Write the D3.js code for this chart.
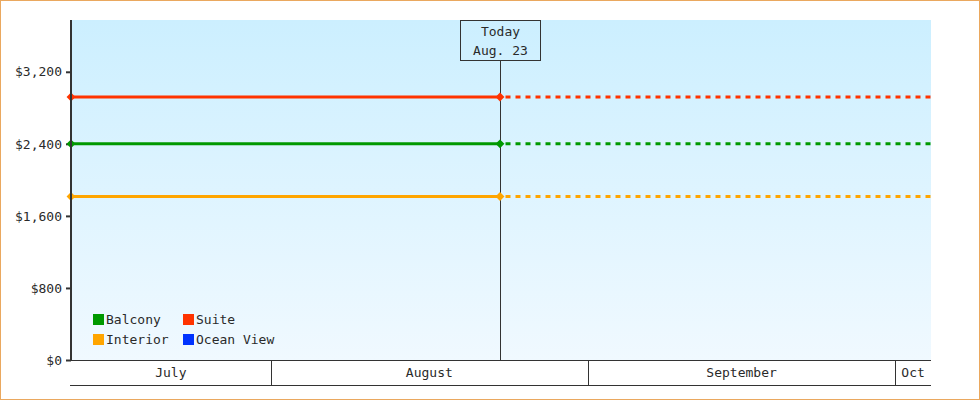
<!DOCTYPE html>
<html>
<head>
<meta charset="utf-8">
<script src="https://cdn.jsdelivr.net/npm/d3@7"></script>
<style>
  html, body { margin: 0; padding: 0; background: #fff; }
  svg text { font-family: "DejaVu Sans Mono", "Liberation Mono", monospace; font-size: 13px; fill: #2a2a2a; }
</style>
</head>
<body>
<div id="container"></div>
<script>
const seriesNames = ["Balcony", "Suite", "Interior", "Ocean View"];
const seriesColors = ["#009900", "#ff3300", "#ffa500", "#0033ff"];
// price per series (flat), null = no data
const seriesPrices = [2400, 2920, 1815, null];
const yTicks = [0, 800, 1600, 2400, 3200];
const monthLabels = ["July", "August", "September", "Oct"];
const monthStarts = ["2023-07-12T12:00", "2023-08-01T00:00", "2023-09-01T00:00", "2023-10-01T00:00"];
const domainEnd = "2023-10-04T12:00";
const today = "2023-08-23T10:00";
const todayLabel = ["Today", "Aug. 23"];

const w = 980, h = 400;
const pLeft = 71, pRight = 931, pTop = 20, pBottom = 360;

const svg = d3.select("#container").append("svg")
  .attr("width", w).attr("height", h);

svg.append("rect")
  .attr("x", 0.5).attr("y", 0.5)
  .attr("width", w - 1).attr("height", h - 1)
  .attr("fill", "#fff").attr("stroke", "#eaa85f");

const defs = svg.append("defs");
const grad = defs.append("linearGradient")
  .attr("id", "bg").attr("x1", 0).attr("y1", 0).attr("x2", 0).attr("y2", 1);
grad.append("stop").attr("offset", "0%").attr("stop-color", "#ccefff");
grad.append("stop").attr("offset", "100%").attr("stop-color", "#f0f9ff");

const parse = (s) => new Date(s);
const xScale = d3.scaleTime()
  .domain([parse(monthStarts[0]), parse(domainEnd)])
  .range([pLeft, pRight]);
const yScale = d3.scaleLinear()
  .domain([0, 3775])
  .range([pBottom, pTop]);

svg.append("rect")
  .attr("x", pLeft).attr("y", pTop)
  .attr("width", pRight - pLeft).attr("height", pBottom - pTop)
  .attr("fill", "url(#bg)");

// y axis
const yAxis = d3.axisLeft(yScale)
  .tickValues(yTicks)
  .tickSize(5)
  .tickPadding(4)
  .tickFormat((d) => "$" + d3.format(",")(d));
const yg = svg.append("g")
  .attr("transform", "translate(" + pLeft + ",0)")
  .call(yAxis);
yg.select(".domain").remove();
yg.selectAll(".tick line").attr("stroke", "#333").attr("stroke-width", 2);
yg.selectAll(".tick text").style("font-family", "DejaVu Sans Mono").style("font-size", "13px").attr("fill", "#2a2a2a");

// x axis band
const edges = monthStarts.map(parse).concat([parse(domainEnd)]);
svg.append("line")
  .attr("x1", pLeft - 1).attr("x2", pRight).attr("y1", pBottom + 0.5).attr("y2", pBottom + 0.5)
  .attr("stroke", "#333");
svg.append("line")
  .attr("x1", pLeft - 1).attr("x2", pRight).attr("y1", pBottom + 25.5).attr("y2", pBottom + 25.5)
  .attr("stroke", "#333");
svg.selectAll(".mdiv")
  .data(edges.slice(1, -1))
  .enter().append("line")
  .attr("class", "mdiv")
  .attr("x1", (d) => Math.round(xScale(d)) + 0.5)
  .attr("x2", (d) => Math.round(xScale(d)) + 0.5)
  .attr("y1", pBottom).attr("y2", pBottom + 25)
  .attr("stroke", "#333");
svg.selectAll(".mlbl")
  .data(monthLabels)
  .enter().append("text")
  .attr("class", "mlbl")
  .attr("x", (d, i) => (xScale(edges[i]) + xScale(edges[i + 1])) / 2)
  .attr("y", pBottom + 17)
  .attr("text-anchor", "middle")
  .text((d) => d);

// today marker
const tx = Math.round(xScale(parse(today))) + 0.5;
svg.append("line")
  .attr("x1", tx).attr("x2", tx)
  .attr("y1", pTop + 40).attr("y2", pBottom)
  .attr("stroke", "#333");
svg.append("rect")
  .attr("x", tx - 40).attr("y", pTop + 0.5)
  .attr("width", 80).attr("height", 40)
  .attr("fill", "none").attr("stroke", "#333");
svg.selectAll(".tlbl")
  .data(todayLabel)
  .enter().append("text")
  .attr("class", "tlbl")
  .attr("x", tx)
  .attr("y", (d, i) => pTop + 16 + i * 19)
  .attr("text-anchor", "middle")
  .text((d) => d);

// series
const diamond = d3.symbol().type(d3.symbolDiamond2).size(50);
seriesNames.forEach((name, i) => {
  const v = seriesPrices[i];
  if (v == null) return;
  const y = yScale(v);
  const g = svg.append("g");
  g.append("line")
    .attr("x1", xScale(parse(monthStarts[0]))).attr("x2", tx)
    .attr("y1", y).attr("y2", y)
    .attr("stroke", seriesColors[i]).attr("stroke-width", 3);
  g.append("line")
    .attr("x1", tx + 5).attr("x2", xScale(parse(domainEnd)))
    .attr("y1", y).attr("y2", y)
    .attr("stroke", seriesColors[i]).attr("stroke-width", 3)
    .attr("stroke-dasharray", "5,5");
  g.selectAll("path")
    .data([parse(monthStarts[0]), parse(today)])
    .enter().append("path")
    .attr("d", diamond)
    .attr("transform", (d) => "translate(" + Math.round(xScale(d)) + "," + y + ")")
    .attr("fill", seriesColors[i]);
});

// y axis line
svg.append("line")
  .attr("x1", pLeft).attr("x2", pLeft)
  .attr("y1", pTop).attr("y2", pBottom + 1)
  .attr("stroke", "#333").attr("stroke-width", 2);

// legend
const legend = svg.append("g").attr("transform", "translate(93,314)");
const items = legend.selectAll("g")
  .data(seriesNames)
  .enter().append("g")
  .attr("transform", (d, i) => "translate(" + (i % 2) * 90 + "," + Math.floor(i / 2) * 20 + ")");
items.append("rect")
  .attr("width", 11).attr("height", 11)
  .attr("fill", (d, i) => seriesColors[i]);
items.append("text")
  .attr("x", 13).attr("y", 10)
  .text((d) => d);
</script>
</body>
</html>
